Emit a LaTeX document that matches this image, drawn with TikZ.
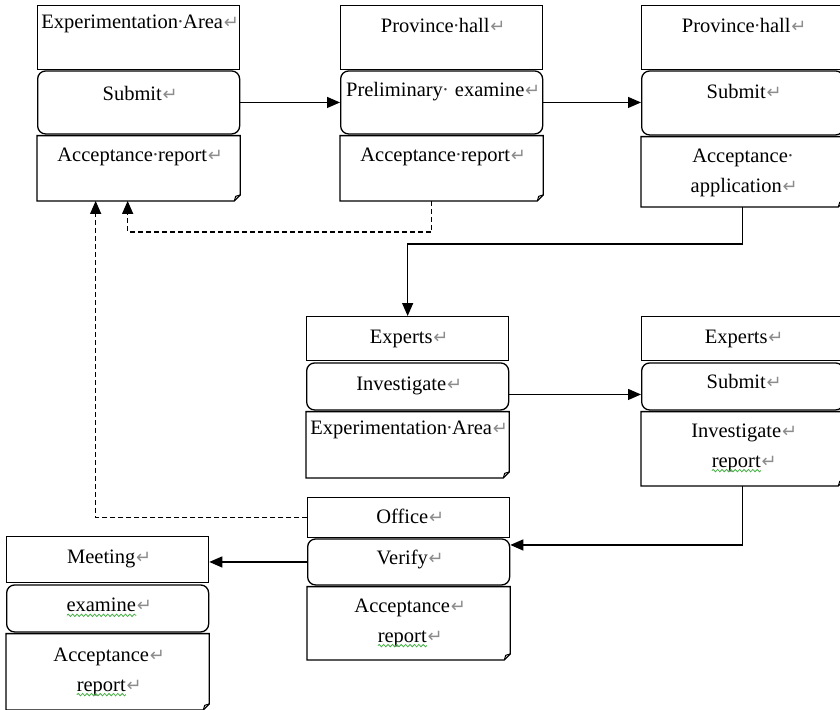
\documentclass[tikz,border=0pt]{standalone}
\usepackage{fontspec}
\setmainfont{Liberation Serif}
\newfontfamily\markfont{DejaVu Sans}
\usetikzlibrary{positioning,arrows.meta,decorations.pathmorphing}

\definecolor{spell}{RGB}{70,175,70}
\definecolor{retgray}{RGB}{140,140,140}
\newcommand\partfont{\fontsize{10.25}{15}\selectfont}
% paragraph mark and space dot
\newcommand\ret{\hspace{0.4pt}\makebox[6pt][l]{\markfont\fontsize{9}{9}\selectfont\textcolor{retgray}{↵}}}
\newcommand\dt{\makebox[0.25em]{\textcolor{black!75}{·}}}

\tikzset{
  part/.style={inner sep=0pt, text width=101pt, align=center, font=\partfont, line width=0.65pt},
  hd/.style 2 args={text height=#1, text depth=#2},
  plainbox/.style={part, draw},
  roundbox/.style={part, draw, rounded corners=4pt},
  docbox/.style={part},
  link/.style={->, line width=0.65pt},
  dashlink/.style={link, dash pattern=on 2.5pt off 1.5pt},
  spellwave/.style={spell, line width=0.4pt, decorate, decoration={snake, amplitude=0.6pt, segment length=2.2pt}},
}

\begin{document}
\begin{tikzpicture}[x=0.5pt, y=-0.5pt, node distance=0.5pt, >={Triangle[length=6.5pt,width=5.5pt]}]
\useasboundingbox (0,0) rectangle (840,709);

% top row
\node[plainbox, hd={11.5pt}{20.5pt}, anchor=north west] (area1) at (37,5) {Experimentation\dt Area\ret};
\node[roundbox, hd={15pt}{16.5pt}, below=0pt of area1] (submit1) {Submit\ret};
\node[docbox, hd={12.5pt}{19.5pt}, below=of submit1] (report1) {Acceptance\dt report\ret};

\node[plainbox, hd={13.5pt}{18.5pt}, anchor=north west] (hall1) at (340,5) {Province\dt hall\ret};
\node[roundbox, hd={13pt}{18.5pt}, below=0pt of hall1] (prelim) {Preliminary\dt\ examine\ret};
\node[docbox, hd={12.5pt}{19.5pt}, below=of prelim] (report2) {Acceptance\dt report\ret};

\node[plainbox, hd={13.5pt}{18.5pt}, anchor=north west] (hall2) at (641,5) {Province\dt hall\ret};
\node[roundbox, hd={14pt}{18pt}, below=0pt of hall2] (submit2) {Submit\ret};
\node[docbox, hd={12.5pt}{22pt}, below=of submit2] (application) {Acceptance\dt\\application\ret};

% middle row
\node[plainbox, hd={13.5pt}{8.5pt}, anchor=north west] (experts1) at (306,316) {Experts\ret};
\node[roundbox, hd={14pt}{9.5pt}, below=of experts1] (investigate) {Investigate\ret};
\node[docbox, hd={11pt}{21.5pt}, below=of investigate] (area2) {Experimentation\dt Area\ret};

\node[plainbox, hd={13.5pt}{8.5pt}, anchor=north west] (experts2) at (641,316) {Experts\ret};
\node[roundbox, hd={13pt}{10.5pt}, below=of experts2] (submit3) {Submit\ret};
\node[docbox, hd={12.5pt}{24pt}, below=of submit3] (invreport) {Investigate\ret\\report\ret};

% bottom row
\node[plainbox, hd={13pt}{7pt}, anchor=north west] (office) at (307,497) {Office\ret};
\node[roundbox, hd={13pt}{10pt}, below=0pt of office] (verify) {Verify\ret};
\node[docbox, hd={12.5pt}{23.5pt}, below=of verify] (report3) {Acceptance\ret\\report\ret};

\node[plainbox, hd={13.5pt}{9.5pt}, anchor=north west] (meeting) at (6,536) {Meeting\ret};
\node[roundbox, hd={13.5pt}{10pt}, below=of meeting] (examine) {examine\ret};
\node[docbox, hd={13.5pt}{24pt}, below=of examine] (report4) {Acceptance\ret\\report\ret};

% folded corner outlines
\foreach \d in {report1,report2,application,area2,invreport,report3,report4}{
  \draw[line width=0.65pt] (\d.south west) -- (\d.north west) -- (\d.north east)
    -- ([yshift=3pt]\d.south east) -- ([xshift=-3pt]\d.south east) -- cycle;
  \draw[line width=0.5pt] ([yshift=3pt]\d.south east) -- ([xshift=-2.3pt,yshift=2.3pt]\d.south east) -- ([xshift=-3pt]\d.south east);
}

% spelling squiggles
\foreach \w/\dy/\xa/\xb in {invreport/29.5/-15.4/9.1, report3/29.5/-15.4/9.1, report4/30.5/-15.4/9.1, examine/15.5/-20.4/14.3}
  \draw[spellwave] ([xshift=\xa pt, yshift=-\dy pt]\w.north) -- ([xshift=\xb pt, yshift=-\dy pt]\w.north);

% connectors
\draw[link] (submit1.east) -- (submit1.east -| prelim.west);
\draw[link] (prelim.east) -- (prelim.east -| submit2.west);
\draw[link] (application.south) -- ++(0,-18.5pt) -| (experts1.north);
\draw[link] ([yshift=-4pt]investigate.east) -- ([yshift=-4pt]investigate.east -| submit3.west);
\draw[link] (invreport.south) |- ([yshift=8.5pt]verify.east);
\draw[link] (verify.west) -- (verify.west -| meeting.east);
\draw[dashlink] (office.west) -| ([xshift=-21.5pt]report1.south);
\draw[dashlink] ([xshift=-5pt]report2.south) -- ++(0,-15.5pt) -| ([xshift=-5.5pt]report1.south);
\end{tikzpicture}
\end{document}
